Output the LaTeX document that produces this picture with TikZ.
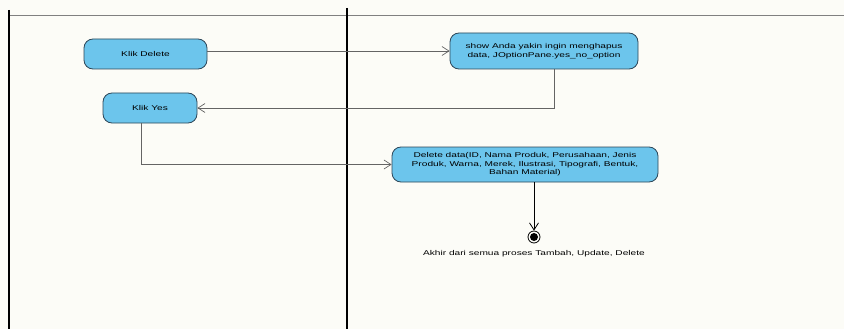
\documentclass[tikz,border=0pt]{standalone}
\usepackage{fontspec}
\setmainfont{Liberation Sans}
\newfontfamily\umlfont[FakeStretch=1.45]{Liberation Sans}
\usetikzlibrary{positioning,arrows.meta}

\definecolor{paper}{RGB}{252,252,247}
\definecolor{actfill}{RGB}{108,197,236}
\definecolor{actline}{RGB}{45,70,88}
\definecolor{flowgray}{RGB}{100,100,100}

\begin{document}
\begin{tikzpicture}[x=1pt,y=-1pt,node distance=2pt,
    action/.style={draw=actline,fill=actfill,rounded corners=9pt,line width=0.8pt,
        align=center,font=\umlfont\fontsize{7}{8.5}\selectfont,inner sep=2pt},
    endstate/.style={circle,draw,line width=0.8pt,minimum size=12pt,inner sep=0pt,
        path picture={\fill (path picture bounding box.center) circle (4pt);}},
    flow/.style={draw=flowgray,line width=0.7pt,-{Straight Barb[length=7pt,width=9pt]}}]
    \fill[paper] (0,0) rectangle (844,329);
    \useasboundingbox (0,0) rectangle (844,329);

    % lanes
    \draw[gray,line width=0.6pt] (8,15) -- (844,15);
    \draw[line width=1.3pt] (9,10) -- (9,329);
    \draw[line width=1.6pt] (347,8) -- (347,329);

    \node[action,minimum width=123pt,minimum height=30pt] (klik_del) at (145.5,54) {Klik Delete};
    \node[action,minimum width=94pt,minimum height=30pt] (klik_yes) at (150,108) {Klik Yes};
    \node[action,minimum width=188pt,minimum height=36pt] (show) at (544,51)
        {show Anda yakin ingin menghapus\\data, JOptionPane.yes\_no\_option};
    \node[action,minimum width=266pt,minimum height=35pt] (del_data) at (525,164.5)
        {Delete data(ID, Nama Produk, Perusahaan, Jenis\\Produk, Warna, Merek, Ilustrasi, Tipografi, Bentuk,\\Bahan Material)};
    \node[endstate] (akhir) at (534,237) {};
    \node[below=3pt of akhir,font=\umlfont\fontsize{7}{8}\selectfont] (akhir_lbl)
        {Akhir dari semua proses Tambah, Update, Delete};

    \draw[flow] (show.west -| klik_del.east) -- (show.west);
    \draw[flow] ([xshift=10pt]show.south) |- (klik_yes.east);
    \draw[flow] ([xshift=-9pt]klik_yes.south) |- (del_data.west);
    \draw[line width=0.8pt,-{Straight Barb[length=7pt,width=9pt]}] (del_data.south -| akhir) -- (akhir);
\end{tikzpicture}
\end{document}
